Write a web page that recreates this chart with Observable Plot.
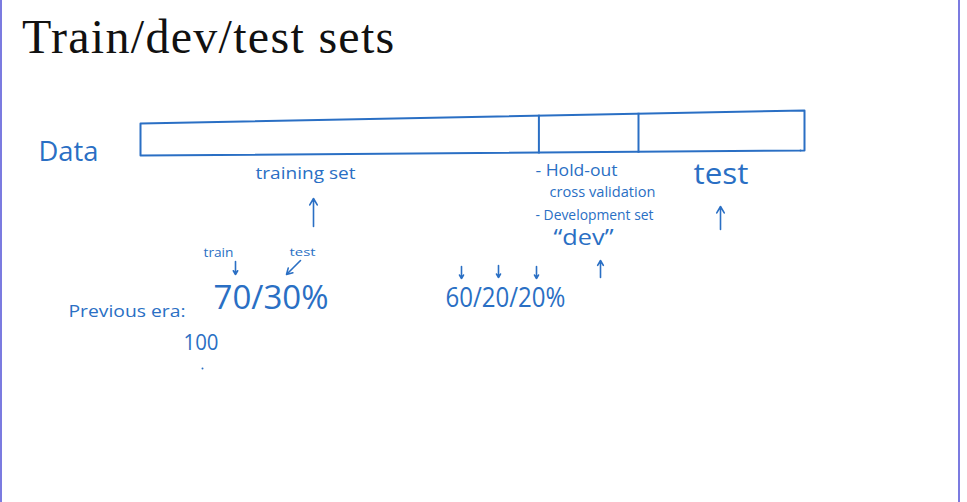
<!DOCTYPE html>
<html><head><meta charset="utf-8">
<script src="https://cdn.jsdelivr.net/npm/d3@7"></script>
<script src="https://cdn.jsdelivr.net/npm/@observablehq/plot@0.6"></script>
<style>
html,body{margin:0;padding:0;background:#fff;overflow:hidden;}
#slide{position:relative;width:967px;height:502px;background:#fff;}
#slide figure{margin:0;}
#slide h2{margin:0;padding:13px 0 0 22px;height:48px;font:400 48px/48px "Liberation Serif",serif;letter-spacing:1.3px;color:#111;}
.edge{position:absolute;top:0;height:502px;width:2px;background:#7b7be0;}
</style></head><body>
<div id="slide"></div>
<script>
// ---- data ----
const splitNames = ["training set", "dev", "test"];
const splitShares = [60, 15, 25];           // % of the data bar
const devNotes = ["- Hold-out", "cross validation", "- Development set", "\u201Cdev\u201D"];
const eraLabel = "Previous era:";
const previousSplitNames = ["train", "test"];
const previousSplit = [70, 30];
const modernSplit = [60, 20, 20];
const exampleSize = "100";
const rowLabel = "Data";

// ---- layout (slide units, px) ----
const ink = "#2a6fc4";
const frame = {x0: 140, x1: 804, top0: 123, top1: 110, bot0: 155, bot1: 150};
const fx = p => frame.x0 + (frame.x1 - frame.x0) * p / 100;
const fTop = p => frame.top0 + (frame.top1 - frame.top0) * p / 100;
const fBot = p => frame.bot0 + (frame.bot1 - frame.bot0) * p / 100;

const cum = d3.cumsum(splitShares);
const outline = [0, 100, 100, 0, 0].map((p, i) => ({x: fx(p), y: (i === 0 || i === 1 || i === 4) ? fTop(p) : fBot(p)}));
const dividers = Array.from(cum).slice(0, -1).map(p => ({x1: fx(p), y1: fTop(p) - 1, x2: fx(p), y2: fBot(p) + 1}));

const labelTexts = [
  rowLabel,
  splitNames[0],
  ...devNotes,
  splitNames[2],
  previousSplitNames[0],
  previousSplitNames[1],
  eraLabel,
  previousSplit.join("/") + "%",
  exampleSize,
  modernSplit.join("/") + "%"
];
const labelLayout = [
  {x: 38,  base: 160, size: 28, w: 60},
  {x: 255, base: 178, size: 17, w: 100},
  {x: 535, base: 175, size: 16, w: 82},
  {x: 549, base: 196, size: 14, w: 106},
  {x: 535, base: 219, size: 14, w: 118},
  {x: 553, base: 244, size: 21, w: 60},
  {x: 693, base: 183, size: 29, w: 55},
  {x: 203, base: 256, size: 12, w: 30},
  {x: 289, base: 255, size: 11, w: 26},
  {x: 68,  base: 316, size: 17, w: 117},
  {x: 213, base: 308, size: 33, w: 115},
  {x: 183, base: 349, size: 21, w: 35},
  {x: 445, base: 306, size: 28, w: 120}
];
const labels = labelTexts.map((t, i) => ({text: t, ...labelLayout[i]}));

const arrows = [
  {x1: 313, y1: 226, x2: 313, y2: 198},
  {x1: 600, y1: 277, x2: 600, y2: 260},
  {x1: 720, y1: 229, x2: 720, y2: 206},
  {x1: 235, y1: 261, x2: 235, y2: 274},
  {x1: 300, y1: 260, x2: 286, y2: 274},
  {x1: 461, y1: 266, x2: 461, y2: 278},
  {x1: 498, y1: 265, x2: 498, y2: 277},
  {x1: 536, y1: 266, x2: 536, y2: 278}
];
const dots = [{x: 202, y: 368}, {x: 800, y: 150}];

const plot = Plot.plot({
  title: "Train/dev/test sets",
  width: 967,
  height: 441,
  margin: 0,
  x: {domain: [0, 967], range: [0, 967], axis: null},
  y: {domain: [61, 502], range: [0, 441], axis: null},
  style: {background: "transparent", overflow: "visible"},
  marks: [
    Plot.line(outline, {x: "x", y: "y", stroke: ink, strokeWidth: 2}),
    Plot.link(dividers, {x1: "x1", y1: "y1", x2: "x2", y2: "y2", stroke: ink, strokeWidth: 2}),
    Plot.arrow(arrows, {x1: "x1", y1: "y1", x2: "x2", y2: "y2", stroke: ink, strokeWidth: 1.6, headLength: 7}),
    Plot.dot(dots, {x: "x", y: "y", r: 1, fill: ink, stroke: null}),
    Plot.text(labels, {
      x: "x", y: d => d.base - 0.32 * d.size, text: "text",
      fontSize: d => d.size, textAnchor: "start", fill: ink,
      fontFamily: "'Open Sans', sans-serif"
    })
  ]
});

d3.select(plot).selectAll('g[aria-label="text"] text').each(function(i) {
  const d = labels[i];
  if (d) { this.setAttribute("textLength", d.w); this.setAttribute("lengthAdjust", "spacingAndGlyphs"); }
});

const slide = document.getElementById("slide");
slide.appendChild(plot);
const l = document.createElement("div"); l.className = "edge"; l.style.left = "0px"; slide.appendChild(l);
const r = document.createElement("div"); r.className = "edge"; r.style.left = "958px"; slide.appendChild(r);
</script>
</body></html>
